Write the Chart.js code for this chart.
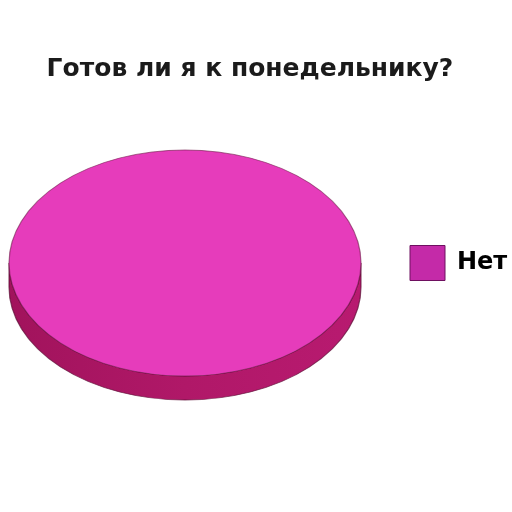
<!DOCTYPE html>
<html>
<head>
<meta charset="utf-8">
<script src="https://cdn.jsdelivr.net/npm/chart.js@4.4.0/dist/chart.umd.min.js"></script>
<style>
  html, body { margin: 0; padding: 0; background: #fff; }
  #wrap { width: 512px; height: 512px; }
</style>
</head>
<body>
<div id="wrap"><canvas id="canvas_pie"></canvas></div>
<script>
// data
const labels_pie = ['Нет'];
const values_pie = [100];
const title_pie = 'Готов ли я к понедельнику?';

const topColor = '#e63cbb';
const sideColor = '#b01868';
const legendColor = '#c42aa8';
const tilt = 0.642;   // vertical squash of the pie
const depth = 24;     // thickness of the side in px
const fontFamily = '"DejaVu Sans", "Liberation Sans", sans-serif';
const fontSize = 24;

// layout: pie area 0..370 (centre x=185), legend box at x=410, title centred on x=250
const mctx = document.createElement('canvas').getContext('2d');
mctx.font = 'bold ' + fontSize + 'px "DejaVu Sans"';
const itemWidth = 35 + fontSize / 2 + mctx.measureText(labels_pie[0]).width;
const padRight = 512 - 410 - 10 - itemWidth;
const padLeft = padRight - 12;
const legendPad = 410 - 370;

// fake 3d: squash the pie and draw a side under it
const pie3d = {
  id: 'pie3d',
  beforeDatasetsDraw(chart) {
    const arc = chart.getDatasetMeta(0).data[0];
    if (!arc) return;
    const ctx = chart.ctx;
    const x = arc.x, y = arc.y, r = arc.outerRadius;
    const d = depth / tilt;
    ctx.save();
    ctx.translate(0, y);
    ctx.scale(1, tilt);
    ctx.translate(0, -y);

    const grad = ctx.createLinearGradient(x - r, 0, x + r, 0);
    grad.addColorStop(0, '#a1135c');
    grad.addColorStop(0.5, sideColor);
    grad.addColorStop(1, '#b81a70');
    ctx.beginPath();
    ctx.moveTo(x - r, y);
    ctx.lineTo(x - r, y + d);
    ctx.arc(x, y + d, r, Math.PI, 0, true);
    ctx.lineTo(x + r, y);
    ctx.arc(x, y, r, 0, Math.PI, false);
    ctx.closePath();
    ctx.fillStyle = grad;
    ctx.fill();
    ctx.lineWidth = 1.2;
    ctx.strokeStyle = 'rgba(90,10,50,0.7)';
    ctx.stroke();
  },
  afterDatasetsDraw(chart) {
    const arc = chart.getDatasetMeta(0).data[0];
    if (!arc) return;
    const ctx = chart.ctx;
    ctx.beginPath();
    ctx.arc(arc.x, arc.y, arc.outerRadius, 0, Math.PI * 2);
    ctx.lineWidth = 1.2;
    ctx.strokeStyle = 'rgba(110,20,70,0.6)';
    ctx.stroke();
    ctx.restore();
  }
};

const data_pie = {
  labels: labels_pie,
  datasets: [{
    data: values_pie,
    backgroundColor: [topColor],
    borderWidth: 0,
    clip: false
  }]
};

const config_pie = {
  type: 'pie',
  data: data_pie,
  options: {
    responsive: true,
    maintainAspectRatio: false,
    animation: false,
    layout: { padding: { left: padLeft, right: padRight, top: 0, bottom: 73 } },
    plugins: {
      title: {
        display: true,
        text: title_pie,
        color: '#1b1b1b',
        font: { family: fontFamily, size: 25, weight: 'bold', lineHeight: 1.2 },
        padding: { top: 54, bottom: 3 }
      },
      legend: {
        position: 'right',
        fullSize: false,
        labels: {
          boxWidth: 35,
          boxHeight: 35,
          padding: legendPad,
          color: '#1b1b1b',
          font: { family: fontFamily, size: fontSize, weight: 'bold' },
          generateLabels(chart) {
            return labels_pie.map((l, i) => ({
              text: l,
              fillStyle: legendColor,
              strokeStyle: '#6e1060',
              lineWidth: 1,
              index: i
            }));
          }
        }
      },
      tooltip: { enabled: false }
    }
  },
  plugins: [pie3d]
};

const chart_pie = new Chart(document.getElementById('canvas_pie'), config_pie);
</script>
</body>
</html>
